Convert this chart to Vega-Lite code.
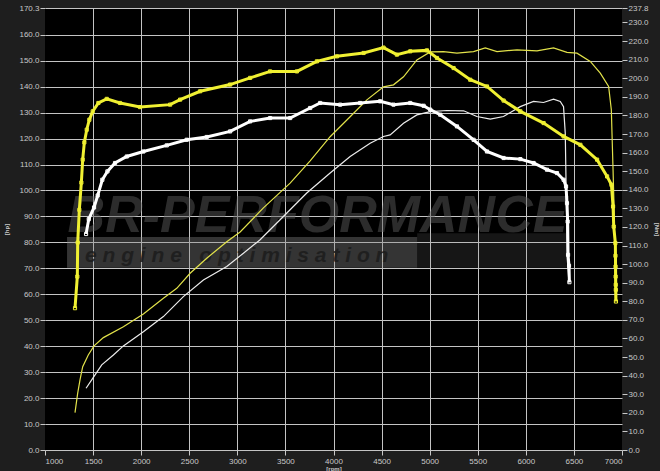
{
  "$schema": "https://vega.github.io/schema/vega-lite/v6.json",
  "width": 577,
  "height": 442,
  "autosize": {"type": "none"},
  "padding": {"left": 45, "top": 8, "right": 38, "bottom": 21},
  "background": "#1e1e1e",
  "config": {
    "view": {"fill": "#000000", "stroke": null},
    "axis": {
      "labelFont": "Liberation Sans",
      "labelFontSize": 8,
      "labelColor": "#c8c8c8",
      "tickColor": "#c8c8c8",
      "tickSize": 5,
      "labelPadding": 1,
      "labelOverlap": false,
      "domain": false,
      "gridColor": "#c4c4c4",
      "gridWidth": 1,
      "titleFont": "Liberation Sans",
      "titleFontSize": 6,
      "titleFontWeight": "bold",
      "titleColor": "#c8c8c8"
    }
  },
  "datasets": {
    "power": [
      {"rpm": 1312, "value": 14.4, "series": "Tuned power"},
      {"rpm": 1340, "value": 21.9, "series": "Tuned power"},
      {"rpm": 1364, "value": 27.0, "series": "Tuned power"},
      {"rpm": 1392, "value": 32.1, "series": "Tuned power"},
      {"rpm": 1450, "value": 36.6, "series": "Tuned power"},
      {"rpm": 1510, "value": 40.1, "series": "Tuned power"},
      {"rpm": 1607, "value": 43.3, "series": "Tuned power"},
      {"rpm": 1815, "value": 47.5, "series": "Tuned power"},
      {"rpm": 2023, "value": 52.4, "series": "Tuned power"},
      {"rpm": 2231, "value": 58.5, "series": "Tuned power"},
      {"rpm": 2370, "value": 62.3, "series": "Tuned power"},
      {"rpm": 2509, "value": 68.1, "series": "Tuned power"},
      {"rpm": 2682, "value": 73.9, "series": "Tuned power"},
      {"rpm": 2890, "value": 80.2, "series": "Tuned power"},
      {"rpm": 3029, "value": 84.0, "series": "Tuned power"},
      {"rpm": 3271, "value": 93.3, "series": "Tuned power"},
      {"rpm": 3549, "value": 102.8, "series": "Tuned power"},
      {"rpm": 3757, "value": 111.4, "series": "Tuned power"},
      {"rpm": 3965, "value": 120.7, "series": "Tuned power"},
      {"rpm": 4173, "value": 128.4, "series": "Tuned power"},
      {"rpm": 4347, "value": 134.9, "series": "Tuned power"},
      {"rpm": 4520, "value": 139.9, "series": "Tuned power"},
      {"rpm": 4624, "value": 140.7, "series": "Tuned power"},
      {"rpm": 4728, "value": 143.8, "series": "Tuned power"},
      {"rpm": 4867, "value": 150.3, "series": "Tuned power"},
      {"rpm": 5006, "value": 153.4, "series": "Tuned power"},
      {"rpm": 5144, "value": 153.5, "series": "Tuned power"},
      {"rpm": 5283, "value": 152.9, "series": "Tuned power"},
      {"rpm": 5456, "value": 153.5, "series": "Tuned power"},
      {"rpm": 5578, "value": 154.9, "series": "Tuned power"},
      {"rpm": 5700, "value": 153.5, "series": "Tuned power"},
      {"rpm": 5908, "value": 154.2, "series": "Tuned power"},
      {"rpm": 6116, "value": 153.8, "series": "Tuned power"},
      {"rpm": 6288, "value": 154.9, "series": "Tuned power"},
      {"rpm": 6428, "value": 153.2, "series": "Tuned power"},
      {"rpm": 6532, "value": 152.9, "series": "Tuned power"},
      {"rpm": 6670, "value": 149.7, "series": "Tuned power"},
      {"rpm": 6774, "value": 145.2, "series": "Tuned power"},
      {"rpm": 6861, "value": 140.1, "series": "Tuned power"},
      {"rpm": 6889, "value": 131.1, "series": "Tuned power"},
      {"rpm": 6906, "value": 109.2, "series": "Tuned power"},
      {"rpm": 6920, "value": 89.9, "series": "Tuned power"},
      {"rpm": 6925, "value": 73.2, "series": "Tuned power"},
      {"rpm": 6930, "value": 57.8, "series": "Tuned power"},
      {"rpm": 1427, "value": 23.8, "series": "Stock power"},
      {"rpm": 1503, "value": 28.0, "series": "Stock power"},
      {"rpm": 1590, "value": 32.8, "series": "Stock power"},
      {"rpm": 1711, "value": 36.6, "series": "Stock power"},
      {"rpm": 1815, "value": 40.1, "series": "Stock power"},
      {"rpm": 2023, "value": 45.6, "series": "Stock power"},
      {"rpm": 2231, "value": 51.4, "series": "Stock power"},
      {"rpm": 2439, "value": 59.1, "series": "Stock power"},
      {"rpm": 2647, "value": 65.5, "series": "Stock power"},
      {"rpm": 2890, "value": 70.7, "series": "Stock power"},
      {"rpm": 3063, "value": 75.8, "series": "Stock power"},
      {"rpm": 3237, "value": 81.0, "series": "Stock power"},
      {"rpm": 3445, "value": 88.7, "series": "Stock power"},
      {"rpm": 3722, "value": 99.0, "series": "Stock power"},
      {"rpm": 3965, "value": 106.7, "series": "Stock power"},
      {"rpm": 4173, "value": 113.1, "series": "Stock power"},
      {"rpm": 4381, "value": 118.2, "series": "Stock power"},
      {"rpm": 4520, "value": 120.8, "series": "Stock power"},
      {"rpm": 4589, "value": 121.4, "series": "Stock power"},
      {"rpm": 4728, "value": 125.9, "series": "Stock power"},
      {"rpm": 4867, "value": 129.1, "series": "Stock power"},
      {"rpm": 5006, "value": 130.4, "series": "Stock power"},
      {"rpm": 5180, "value": 130.8, "series": "Stock power"},
      {"rpm": 5353, "value": 130.7, "series": "Stock power"},
      {"rpm": 5491, "value": 128.5, "series": "Stock power"},
      {"rpm": 5630, "value": 127.5, "series": "Stock power"},
      {"rpm": 5768, "value": 128.5, "series": "Stock power"},
      {"rpm": 5942, "value": 132.3, "series": "Stock power"},
      {"rpm": 6080, "value": 134.3, "series": "Stock power"},
      {"rpm": 6184, "value": 133.9, "series": "Stock power"},
      {"rpm": 6288, "value": 135.2, "series": "Stock power"},
      {"rpm": 6358, "value": 134.3, "series": "Stock power"},
      {"rpm": 6392, "value": 132.3, "series": "Stock power"},
      {"rpm": 6410, "value": 122.1, "series": "Stock power"},
      {"rpm": 6421, "value": 96.4, "series": "Stock power"},
      {"rpm": 6431, "value": 73.2, "series": "Stock power"},
      {"rpm": 6449, "value": 64.4, "series": "Stock power"}
    ],
    "torque": [
      {"rpm": 1312, "value": 76.3, "series": "Tuned torque"},
      {"rpm": 1336, "value": 93.3, "series": "Tuned torque"},
      {"rpm": 1340, "value": 111.6, "series": "Tuned torque"},
      {"rpm": 1357, "value": 129.2, "series": "Tuned torque"},
      {"rpm": 1378, "value": 143.9, "series": "Tuned torque"},
      {"rpm": 1392, "value": 156.2, "series": "Tuned torque"},
      {"rpm": 1409, "value": 165.5, "series": "Tuned torque"},
      {"rpm": 1434, "value": 172.3, "series": "Tuned torque"},
      {"rpm": 1461, "value": 177.7, "series": "Tuned torque"},
      {"rpm": 1496, "value": 182.2, "series": "Tuned torque"},
      {"rpm": 1555, "value": 186.7, "series": "Tuned torque"},
      {"rpm": 1642, "value": 188.9, "series": "Tuned torque"},
      {"rpm": 1780, "value": 186.7, "series": "Tuned torque"},
      {"rpm": 1988, "value": 184.5, "series": "Tuned torque"},
      {"rpm": 2301, "value": 185.8, "series": "Tuned torque"},
      {"rpm": 2405, "value": 188.5, "series": "Tuned torque"},
      {"rpm": 2613, "value": 193.0, "series": "Tuned torque"},
      {"rpm": 2925, "value": 196.6, "series": "Tuned torque"},
      {"rpm": 3133, "value": 200.2, "series": "Tuned torque"},
      {"rpm": 3341, "value": 203.7, "series": "Tuned torque"},
      {"rpm": 3619, "value": 203.7, "series": "Tuned torque"},
      {"rpm": 3827, "value": 209.1, "series": "Tuned torque"},
      {"rpm": 4035, "value": 211.8, "series": "Tuned torque"},
      {"rpm": 4313, "value": 213.6, "series": "Tuned torque"},
      {"rpm": 4520, "value": 216.5, "series": "Tuned torque"},
      {"rpm": 4659, "value": 212.7, "series": "Tuned torque"},
      {"rpm": 4798, "value": 214.5, "series": "Tuned torque"},
      {"rpm": 4972, "value": 215.0, "series": "Tuned torque"},
      {"rpm": 5076, "value": 210.9, "series": "Tuned torque"},
      {"rpm": 5249, "value": 205.5, "series": "Tuned torque"},
      {"rpm": 5422, "value": 199.2, "series": "Tuned torque"},
      {"rpm": 5596, "value": 195.6, "series": "Tuned torque"},
      {"rpm": 5769, "value": 188.0, "series": "Tuned torque"},
      {"rpm": 5943, "value": 182.2, "series": "Tuned torque"},
      {"rpm": 6185, "value": 175.9, "series": "Tuned torque"},
      {"rpm": 6393, "value": 168.7, "series": "Tuned torque"},
      {"rpm": 6567, "value": 164.2, "series": "Tuned torque"},
      {"rpm": 6741, "value": 156.2, "series": "Tuned torque"},
      {"rpm": 6845, "value": 147.2, "series": "Tuned torque"},
      {"rpm": 6890, "value": 142.7, "series": "Tuned torque"},
      {"rpm": 6907, "value": 131.0, "series": "Tuned torque"},
      {"rpm": 6914, "value": 120.2, "series": "Tuned torque"},
      {"rpm": 6931, "value": 111.3, "series": "Tuned torque"},
      {"rpm": 6932, "value": 104.5, "series": "Tuned torque"},
      {"rpm": 6933, "value": 98.7, "series": "Tuned torque"},
      {"rpm": 6934, "value": 93.3, "series": "Tuned torque"},
      {"rpm": 6935, "value": 88.9, "series": "Tuned torque"},
      {"rpm": 6936, "value": 86.2, "series": "Tuned torque"},
      {"rpm": 6937, "value": 79.9, "series": "Tuned torque"},
      {"rpm": 1427, "value": 116.2, "series": "Stock torque"},
      {"rpm": 1455, "value": 124.2, "series": "Stock torque"},
      {"rpm": 1510, "value": 130.5, "series": "Stock torque"},
      {"rpm": 1548, "value": 136.9, "series": "Stock torque"},
      {"rpm": 1596, "value": 145.4, "series": "Stock torque"},
      {"rpm": 1649, "value": 149.9, "series": "Stock torque"},
      {"rpm": 1728, "value": 154.4, "series": "Stock torque"},
      {"rpm": 1850, "value": 157.9, "series": "Stock torque"},
      {"rpm": 2023, "value": 160.6, "series": "Stock torque"},
      {"rpm": 2266, "value": 163.9, "series": "Stock torque"},
      {"rpm": 2474, "value": 166.9, "series": "Stock torque"},
      {"rpm": 2682, "value": 168.4, "series": "Stock torque"},
      {"rpm": 2925, "value": 171.4, "series": "Stock torque"},
      {"rpm": 3133, "value": 176.8, "series": "Stock torque"},
      {"rpm": 3341, "value": 178.6, "series": "Stock torque"},
      {"rpm": 3549, "value": 178.6, "series": "Stock torque"},
      {"rpm": 3757, "value": 184.0, "series": "Stock torque"},
      {"rpm": 3861, "value": 186.7, "series": "Stock torque"},
      {"rpm": 4069, "value": 185.8, "series": "Stock torque"},
      {"rpm": 4277, "value": 186.7, "series": "Stock torque"},
      {"rpm": 4485, "value": 187.6, "series": "Stock torque"},
      {"rpm": 4624, "value": 185.8, "series": "Stock torque"},
      {"rpm": 4798, "value": 186.7, "series": "Stock torque"},
      {"rpm": 4937, "value": 185.2, "series": "Stock torque"},
      {"rpm": 5006, "value": 183.1, "series": "Stock torque"},
      {"rpm": 5110, "value": 180.4, "series": "Stock torque"},
      {"rpm": 5284, "value": 174.1, "series": "Stock torque"},
      {"rpm": 5457, "value": 166.9, "series": "Stock torque"},
      {"rpm": 5596, "value": 160.6, "series": "Stock torque"},
      {"rpm": 5769, "value": 157.1, "series": "Stock torque"},
      {"rpm": 5943, "value": 156.5, "series": "Stock torque"},
      {"rpm": 6081, "value": 154.4, "series": "Stock torque"},
      {"rpm": 6220, "value": 150.8, "series": "Stock torque"},
      {"rpm": 6324, "value": 149.0, "series": "Stock torque"},
      {"rpm": 6393, "value": 145.4, "series": "Stock torque"},
      {"rpm": 6418, "value": 141.8, "series": "Stock torque"},
      {"rpm": 6428, "value": 132.8, "series": "Stock torque"},
      {"rpm": 6435, "value": 122.9, "series": "Stock torque"},
      {"rpm": 6439, "value": 105.0, "series": "Stock torque"},
      {"rpm": 6449, "value": 99.1, "series": "Stock torque"},
      {"rpm": 6453, "value": 90.3, "series": "Stock torque"}
    ],
    "logo": [
      {"part": "band", "x0": 1229, "x1": 4870, "y0": 70.2, "y1": 82.1, "text": ""},
      {"part": "flag", "x0": 4870, "x1": 6420, "y0": 70.2, "y1": 83.5, "text": ""},
      {"part": "brand", "x0": 1235, "x1": 1235, "y0": 84.0, "y1": 84.0, "text": "BR-PERFORMANCE"},
      {"part": "slogan", "x0": 1416, "x1": 1416, "y0": 72.3, "y1": 72.3, "text": "e\u00a0n\u00a0g\u00a0i\u00a0n\u00a0e\u00a0\u00a0\u00a0o\u00a0p\u00a0t\u00a0i\u00a0m\u00a0i\u00a0s\u00a0a\u00a0t\u00a0i\u00a0o\u00a0n"}
    ]
  },
  "layer": [
    {
      "data": {"name": "logo"},
      "layer": [
        {
          "transform": [{"filter": "datum.part === 'band'"}],
          "mark": {"type": "rect", "fill": "#8a8a8a", "opacity": 0.38}
        },
        {
          "transform": [{"filter": "datum.part === 'flag'"}],
          "mark": {"type": "rect", "fill": "#8a8a8a", "opacity": 0.16}
        },
        {
          "transform": [{"filter": "datum.part === 'brand'"}],
          "mark": {"type": "text", "font": "Liberation Sans", "fontSize": 52, "fontWeight": "bold", "fontStyle": "italic", "fill": "#5c5c5c", "opacity": 0.48, "align": "left", "baseline": "alphabetic"},
          "encoding": {"text": {"field": "text"}, "x2": null, "y2": null}
        },
        {
          "transform": [{"filter": "datum.part === 'slogan'"}],
          "mark": {"type": "text", "font": "Liberation Sans", "fontSize": 21, "fontWeight": "bold", "fontStyle": "italic", "fill": "#1c1c1c", "opacity": 0.85, "align": "left", "baseline": "alphabetic"},
          "encoding": {"text": {"field": "text"}, "x2": null, "y2": null}
        }
      ],
      "encoding": {
        "x": {
          "field": "x0", "type": "quantitative",
          "scale": {"domain": [1000, 7000], "nice": false, "zero": false},
          "axis": {
            "values": [1000, 1500, 2000, 2500, 3000, 3500, 4000, 4500, 5000, 5500, 6000, 6500, 7000],
            "format": "d",
            "labelPadding": 2,
            "grid": true,
            "gridOpacity": {"condition": {"test": "datum.value <= 1000 || datum.value >= 7000", "value": 0}, "value": 1},
            "title": "[rpm]",
            "titleBaseline": "top",
            "titleY": 15
          }
        },
        "x2": {"field": "x1"},
        "y": {"field": "y0", "type": "quantitative", "scale": {"domain": [0, 170.3], "nice": false}, "axis": null},
        "y2": {"field": "y1"}
      }
    },
    {
      "data": {"name": "power"},
      "mark": {"type": "line", "strokeWidth": 1.2},
      "encoding": {
        "x": {
          "field": "rpm", "type": "quantitative",
          "scale": {"domain": [1000, 7000], "nice": false, "zero": false},
          "axis": {
            "values": [1000, 1500, 2000, 2500, 3000, 3500, 4000, 4500, 5000, 5500, 6000, 6500, 7000],
            "format": "d",
            "labelPadding": 2,
            "grid": true,
            "gridOpacity": {"condition": {"test": "datum.value <= 1000 || datum.value >= 7000", "value": 0}, "value": 1},
            "title": "[rpm]",
            "titleBaseline": "top",
            "titleY": 15
          }
        },
        "y": {
          "field": "value", "type": "quantitative",
          "scale": {"domain": [0, 170.3], "nice": false},
          "axis": {
            "orient": "left",
            "values": [0, 10, 20, 30, 40, 50, 60, 70, 80, 90, 100, 110, 120, 130, 140, 150, 160, 170.3],
            "format": ".1f",
            "grid": true,
            "title": "[hp]",
            "titleX": -36,
            "titleY": 221
          }
        },
        "color": {
          "field": "series", "type": "nominal", "legend": null,
          "scale": {"domain": ["Tuned power", "Stock power", "Tuned torque", "Stock torque"], "range": ["#e2e24a", "#ececec", "#f0f032", "#ffffff"]}
        }
      }
    },
    {
      "data": {"name": "torque"},
      "mark": {"type": "line", "strokeWidth": 3, "point": {"shape": "square", "filled": false, "size": 10, "strokeWidth": 1}},
      "encoding": {
        "x": {
          "field": "rpm", "type": "quantitative",
          "scale": {"domain": [1000, 7000], "nice": false, "zero": false},
          "axis": {
            "values": [1000, 1500, 2000, 2500, 3000, 3500, 4000, 4500, 5000, 5500, 6000, 6500, 7000],
            "format": "d",
            "labelPadding": 2,
            "grid": true,
            "gridOpacity": {"condition": {"test": "datum.value <= 1000 || datum.value >= 7000", "value": 0}, "value": 1},
            "title": "[rpm]",
            "titleBaseline": "top",
            "titleY": 15
          }
        },
        "y": {
          "field": "value", "type": "quantitative",
          "scale": {"domain": [0, 237.8], "nice": false},
          "axis": {
            "orient": "right",
            "values": [0, 10, 20, 30, 40, 50, 60, 70, 80, 90, 100, 110, 120, 130, 140, 150, 160, 170, 180, 190, 200, 210, 220, 230, 237.8],
            "format": ".1f",
            "grid": false,
            "title": "[Nm]",
            "titleX": 31,
            "titleY": 221
          }
        },
        "color": {"field": "series", "type": "nominal", "legend": null}
      }
    }
  ],
  "resolve": {"scale": {"y": "independent"}}
}
